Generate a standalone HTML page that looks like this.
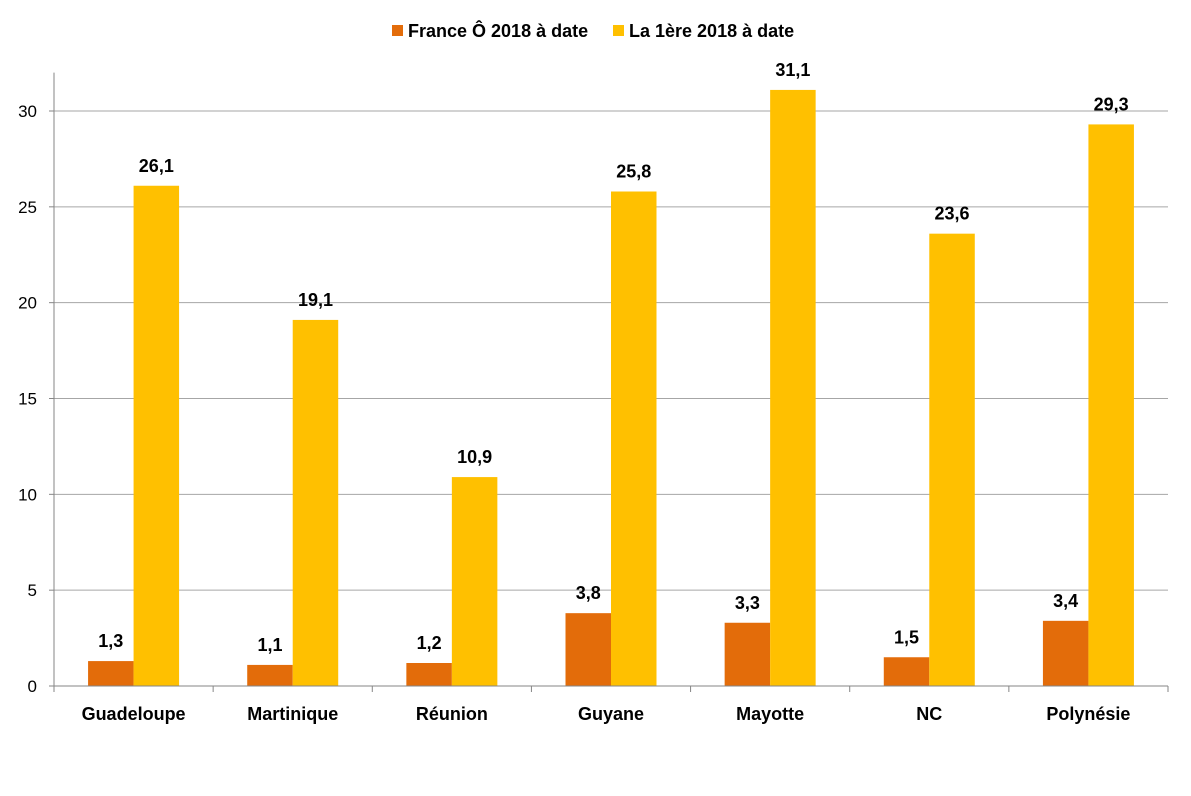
<!DOCTYPE html>
<html><head><meta charset="utf-8"><style>
body{margin:0;background:#fff;}
svg text{font-family:"Liberation Sans",sans-serif;}
</style></head><body>
<svg id="chart" width="1191" height="791" xmlns="http://www.w3.org/2000/svg">
<g id="legend">
 <rect x="392" y="25" width="11" height="11" fill="#E36C0A"/>
 <text x="408" y="37" font-size="18" font-weight="bold" fill="#000">France Ô 2018 à date</text>
 <rect x="613" y="25" width="11" height="11" fill="#FFC000"/>
 <text x="629" y="37" font-size="18" font-weight="bold" fill="#000">La 1ère 2018 à date</text>
</g>
<g id="grid"></g><g id="bars"></g><g id="axes"></g>
</svg>
<script>
const categories=["Guadeloupe","Martinique","Réunion","Guyane","Mayotte","NC","Polynésie"];
const franceO=[1.3,1.1,1.2,3.8,3.3,1.5,3.4];
const la1ere=[26.1,19.1,10.9,25.8,31.1,23.6,29.3];
const yTicks=[0,5,10,15,20,25,30];
const NS="http://www.w3.org/2000/svg";
const x0=54,x1=1168,yBase=686,yTop30=111;
const y=v=>yBase-(yBase-yTop30)*v/30;
const bw=(x1-x0)/categories.length;
const barW=45.5;
function mk(tag,attrs,parent,txt){const e=document.createElementNS(NS,tag);for(const k in attrs)e.setAttribute(k,attrs[k]);if(txt!==undefined)e.textContent=txt;document.getElementById(parent).appendChild(e);return e;}
yTicks.forEach(t=>{
 if(t>0){const l=mk("line",{x1:x0,x2:x1,y1:y(t),y2:y(t),stroke:"#A6A6A6","stroke-width":1},"grid");
 
 }
 const tx=mk("text",{x:37,y:y(t)+6,"text-anchor":"end","font-size":17,fill:"#000"},"axes",String(t));
 
 
 const tk=mk("line",{x1:x0-5,x2:x0,y1:y(t),y2:y(t),stroke:"#868686"},"axes");
 
 
});
const ya=mk("line",{x1:x0,x2:x0,y1:y(0),y2:y(32),stroke:"#868686"},"axes");


const xa=mk("line",{x1:x0,x2:x1,y1:yBase,y2:yBase,stroke:"#868686"},"axes");


for(let i=0;i<=categories.length;i++){const t=mk("line",{x1:x0+i*bw,x2:x0+i*bw,y1:yBase,y2:yBase+6,stroke:"#868686"},"axes");
 
 }
categories.forEach((c,i)=>{
 const cx=x0+bw*(i+0.5);
 const series=[[franceO[i],"#E36C0A",cx-barW,"france-o"],[la1ere[i],"#FFC000",cx,"la-1ere"]];
 series.forEach(([v,col,bx,nm])=>{
  const r=mk("rect",{x:bx,y:y(v),width:barW,height:yBase-y(v),fill:col},"bars");
  
  
  const lb=mk("text",{x:bx+barW/2,y:y(v)-14,"text-anchor":"middle","font-size":18,"font-weight":"bold",fill:"#000"},"bars",v.toFixed(1).replace(".",","));
  
  
 });
 const xl=mk("text",{x:cx,y:720,"text-anchor":"middle","font-size":18,"font-weight":"bold",fill:"#000"},"axes",c);
 
 
});
</script>
</body></html>
